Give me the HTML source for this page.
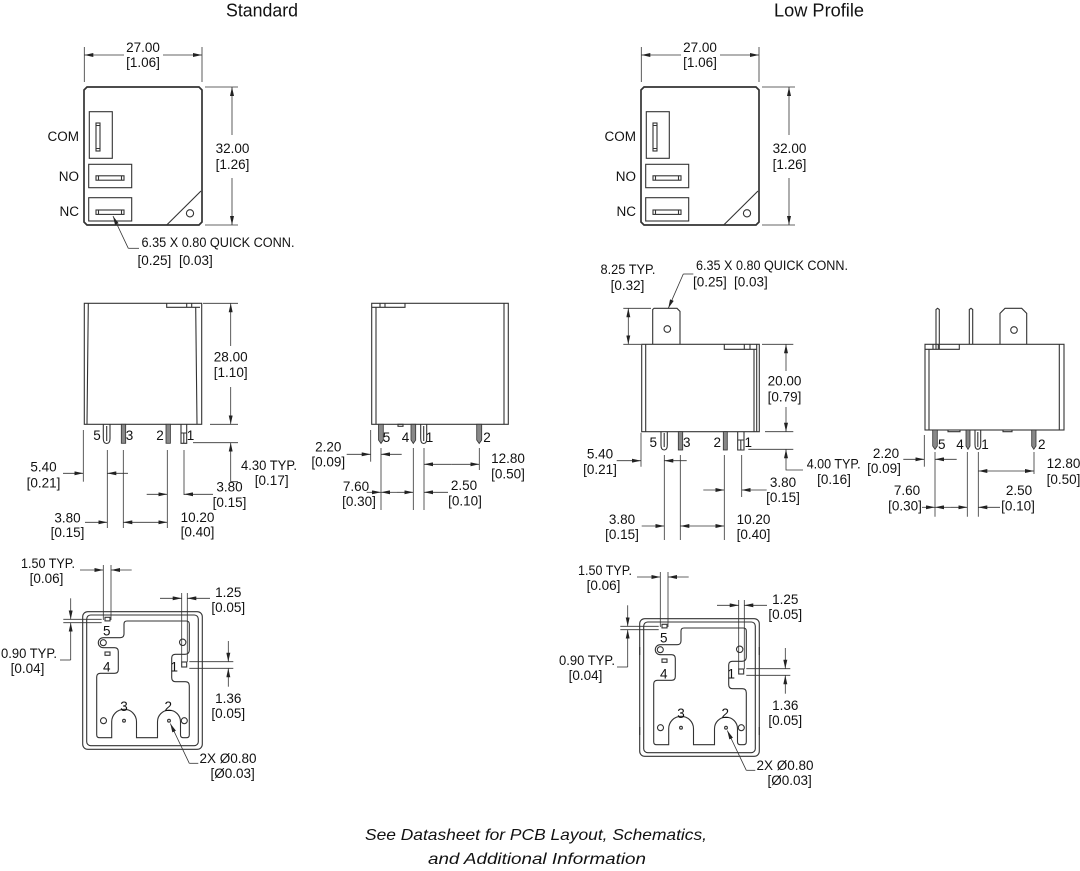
<!DOCTYPE html>
<html><head><meta charset="utf-8"><style>
html,body{margin:0;padding:0;background:#fff;}
svg{display:block;}
text{font-family:"Liberation Sans",Arial,sans-serif;font-size:13.5px;fill:#111;}
.m{text-anchor:middle}
.e{text-anchor:end}
.o{stroke:#333;stroke-width:1.1;fill:none}
.t{stroke:#333;stroke-width:1.7;fill:none}
.d{stroke:#333;stroke-width:0.8;fill:none}
.f{fill:#888;stroke:#333;stroke-width:0.8}
.ttl{font-size:18px}
.it{font-style:italic;font-size:16px}
</style></head><body>
<svg width="1080" height="871" viewBox="0 0 1080 871">
<defs><marker id="a" viewBox="0 0 9 4" refX="9" refY="2" markerWidth="9" markerHeight="4" markerUnits="userSpaceOnUse" orient="auto"><path d="M0,0L9,2L0,4z" fill="#222"/></marker></defs>

<text class="m ttl" x="262" y="16.5" textLength="72" lengthAdjust="spacingAndGlyphs">Standard</text>
<text class="m ttl" x="819" y="16.5" textLength="90" lengthAdjust="spacingAndGlyphs">Low Profile</text>

<!-- ===== STANDARD TOP VIEW ===== -->
<g>
<path class="t" d="M87,87H199L202,90V222L199,225H87L84,222V90Z"/>
<rect class="o" x="89.3" y="111.7" width="23" height="46.6"/>
<rect class="o" x="96" y="123" width="4" height="28"/>
<path class="o" d="M96,125.5H100M96,148.5H100"/>
<rect class="o" x="88.7" y="164.3" width="43" height="23.4"/>
<rect class="o" x="96" y="175.8" width="28" height="4.4"/>
<path class="o" d="M98.5,175.8V180.2M121.5,175.8V180.2"/>
<rect class="o" x="88.7" y="197.7" width="43" height="23.3"/>
<rect class="o" x="96" y="210" width="28" height="4.4"/>
<path class="o" d="M98.5,210V214.4M121.5,210V214.4"/>
<path class="o" d="M166.7,225L201,191"/>
<circle class="o" cx="190" cy="213.3" r="3.6"/>
<text class="e" x="79" y="141">COM</text>
<text class="e" x="79" y="181">NO</text>
<text class="e" x="79" y="216">NC</text>
<path class="d" d="M84.3,47V82M202,47V82"/>
<path class="d" d="M124,55H84.3" marker-end="url(#a)"/>
<path class="d" d="M163,55H202" marker-end="url(#a)"/>
<text class="m" x="143" y="52">27.00</text>
<text class="m" x="143" y="67">[1.06]</text>
<path class="d" d="M205,87H238M205,225H238"/>
<path class="d" d="M232,135V87" marker-end="url(#a)"/>
<path class="d" d="M232,178V225" marker-end="url(#a)"/>
<text class="m" x="232.5" y="153">32.00</text>
<text class="m" x="232.5" y="169">[1.26]</text>
</g>
<path class="d" d="M128.3,248.3L113,216" marker-end="url(#a)"/>
<path class="d" d="M128.3,248.3H139"/>
<text x="141.5" y="247" textLength="153" lengthAdjust="spacingAndGlyphs">6.35 X 0.80 QUICK CONN.</text>
<text x="137.5" y="265">[0.25]</text>
<text x="179" y="265">[0.03]</text>

<!-- ===== LOW PROFILE TOP VIEW ===== -->
<g transform="translate(557,0)">
<path class="t" d="M87,87H199L202,90V222L199,225H87L84,222V90Z"/>
<rect class="o" x="89.3" y="111.7" width="23" height="46.6"/>
<rect class="o" x="96" y="123" width="4" height="28"/>
<path class="o" d="M96,125.5H100M96,148.5H100"/>
<rect class="o" x="88.7" y="164.3" width="43" height="23.4"/>
<rect class="o" x="96" y="175.8" width="28" height="4.4"/>
<path class="o" d="M98.5,175.8V180.2M121.5,175.8V180.2"/>
<rect class="o" x="88.7" y="197.7" width="43" height="23.3"/>
<rect class="o" x="96" y="210" width="28" height="4.4"/>
<path class="o" d="M98.5,210V214.4M121.5,210V214.4"/>
<path class="o" d="M166.7,225L201,191"/>
<circle class="o" cx="190" cy="213.3" r="3.6"/>
<text class="e" x="79" y="141">COM</text>
<text class="e" x="79" y="181">NO</text>
<text class="e" x="79" y="216">NC</text>
<path class="d" d="M84.3,47V82M202,47V82"/>
<path class="d" d="M124,55H84.3" marker-end="url(#a)"/>
<path class="d" d="M163,55H202" marker-end="url(#a)"/>
<text class="m" x="143" y="52">27.00</text>
<text class="m" x="143" y="67">[1.06]</text>
<path class="d" d="M205,87H238M205,225H238"/>
<path class="d" d="M232,135V87" marker-end="url(#a)"/>
<path class="d" d="M232,178V225" marker-end="url(#a)"/>
<text class="m" x="232.5" y="153">32.00</text>
<text class="m" x="232.5" y="169">[1.26]</text>
</g>

<!-- ===== STANDARD SIDE VIEW ===== -->
<rect class="o" x="84.3" y="303.3" width="117.4" height="121"/>
<path class="o" d="M88.3,303.3L87,424.3M195.7,307.3L197,424.3"/>
<path class="o" d="M166.7,303.3V307.3H200M186.7,303.3V307.3M191.7,303.3V307.3"/>
<path class="o" d="M103.3,424.3V438.5Q103.3,443.5 106.7,443.5Q110,443.5 110,438.5V424.3M106.7,426V441"/>
<rect class="f" x="121.3" y="424.3" width="4.4" height="19"/>
<rect class="f" x="166" y="424.3" width="4.4" height="19"/>
<path class="o" d="M181,424.3V443.3H186.7V424.3M181,433H186.7M183.8,433V443.3"/>
<text class="m" x="97" y="440">5</text>
<text class="m" x="129.5" y="440">3</text>
<text class="m" x="160" y="440">2</text>
<text class="m" x="190.5" y="440">1</text>
<path class="d" d="M203,303.3H238M210,424.3H238"/>
<path class="d" d="M230.7,346V303.3" marker-end="url(#a)"/>
<path class="d" d="M230.7,387V424.3" marker-end="url(#a)"/>
<text class="m" x="230.7" y="361.5">28.00</text>
<text class="m" x="230.7" y="377">[1.10]</text>
<path class="d" d="M193,442.7H238"/>
<path class="d" d="M230.7,462V442.7" marker-end="url(#a)"/>
<path class="d" d="M230.7,462V481.7H238"/>
<text x="241" y="470" textLength="56" lengthAdjust="spacingAndGlyphs">4.30 TYP.</text>
<text class="m" x="271.7" y="485">[0.17]</text>
<path class="d" d="M83.3,430V481.7"/>
<path class="d" d="M63,473.3H83.3" marker-end="url(#a)"/>
<path class="d" d="M128,473.3H107.3" marker-end="url(#a)"/>
<text class="m" x="43.5" y="471.5">5.40</text>
<text class="m" x="43.5" y="487.5">[0.21]</text>
<path class="d" d="M107.3,450V528M123.3,450V528M167.3,450V528M184,450V495"/>
<path class="d" d="M146.7,494.3H167.3" marker-end="url(#a)"/>
<path class="d" d="M213,494.3H184" marker-end="url(#a)"/>
<text class="m" x="229.5" y="491.5">3.80</text>
<text class="m" x="229.5" y="507">[0.15]</text>
<path class="d" d="M85,522.3H107.3" marker-end="url(#a)"/>
<path class="d" d="M145,522.3H123.3" marker-end="url(#a)"/>
<path class="d" d="M145,522.3H167.3" marker-end="url(#a)"/>
<text class="m" x="67.5" y="522.5">3.80</text>
<text class="m" x="67.5" y="537">[0.15]</text>
<text class="m" x="197.5" y="522">10.20</text>
<text class="m" x="197.5" y="536.5">[0.40]</text>

<!-- ===== STANDARD RIGHT SIDE VIEW ===== -->
<rect class="o" x="371.7" y="303.3" width="136.6" height="121"/>
<path class="o" d="M376,307.3V424.3M504,303.3V424.3"/>
<path class="o" d="M371.7,307.3H405V303.3M380,303.3V307.3M385,303.3V307.3"/>
<rect class="o" x="398" y="424.3" width="5" height="2"/>
<path class="f" d="M378.5,424.3V440L381,443.5L383.3,440V424.3Z"/>
<path class="f" d="M411,424.3V440L413.3,443.5L415.7,440V424.3Z"/>
<path class="o" d="M420.7,424.3V438.5Q420.7,443.5 423.7,443.5Q426.7,443.5 426.7,438.5V424.3M423.7,426V441"/>
<path class="f" d="M476.7,424.3V440L479.2,443.5L481.7,440V424.3Z"/>
<text class="m" x="386.5" y="442">5</text>
<text class="m" x="405.5" y="442">4</text>
<text class="m" x="429.5" y="442">1</text>
<text class="m" x="487" y="442">2</text>
<path class="d" d="M370.7,430V461.7"/>
<path class="d" d="M346.7,454.3H370.7" marker-end="url(#a)"/>
<path class="d" d="M401.7,454.3H381" marker-end="url(#a)"/>
<text class="m" x="328.3" y="451.5">2.20</text>
<text class="m" x="328.3" y="466.5">[0.09]</text>
<path class="d" d="M381,448V510M413.3,448V510M424,448V510M479.3,448V470"/>
<path class="d" d="M451.7,464.3H424" marker-end="url(#a)"/>
<path class="d" d="M451.7,464.3H479.3" marker-end="url(#a)"/>
<text class="m" x="508" y="463">12.80</text>
<text class="m" x="508" y="478.5">[0.50]</text>
<path class="d" d="M366.7,492.3H381" marker-end="url(#a)"/>
<path class="d" d="M397,492.3H381" marker-end="url(#a)"/>
<path class="d" d="M397,492.3H413.3" marker-end="url(#a)"/>
<text class="m" x="356" y="491">7.60</text>
<text class="m" x="359" y="506">[0.30]</text>
<path class="d" d="M448,492.3H424" marker-end="url(#a)"/>
<text class="m" x="464" y="490">2.50</text>
<text class="m" x="465" y="505.5">[0.10]</text>

<!-- ===== STANDARD BOTTOM VIEW ===== -->
<g>
<rect class="o" x="82.7" y="611.7" width="119.6" height="137.6" rx="5"/>
<rect class="o" x="86.7" y="615" width="111.6" height="130.7" rx="4"/>
<path class="o" d="M127,621H186.3Q189.3,621 189.3,624V650Q189.3,654.3 185,654.3H175.5Q171.7,654.3 171.7,658V677.5Q171.7,681.7 175.5,681.7H185.3Q189.3,681.7 189.3,685.7V734.7Q189.3,737.7 186.3,737.7H183.5Q180.5,737.7 180.5,734.7V721.7A11.5,11.5 0 0 0 157.5,721.7V737.7H136.5V721.7A12.4,12.4 0 0 0 111.7,721.7V737.7H99.7Q96.7,737.7 96.7,734.7V677Q96.7,673.3 100.5,673.3H114.5Q118.3,673.3 118.3,669.5V651.5Q118.3,647.7 114.5,647.7H103.3A5,5 0 0 1 103.3,637.7H120Q124,637.7 124,633.7V624Q124,621 127,621Z"/>
<circle class="o" cx="103.3" cy="642.7" r="3"/>
<circle class="o" cx="182.7" cy="642.3" r="3.2"/>
<circle class="o" cx="103.5" cy="720.7" r="3"/>
<circle class="o" cx="184.3" cy="720.7" r="3"/>
<circle class="o" cx="124" cy="720.7" r="1.4"/>
<circle class="o" cx="169" cy="720.7" r="1.4"/>
<rect class="o" x="105" y="617.3" width="5" height="3.6"/>
<rect class="o" x="105" y="652" width="5" height="3.3"/>
<rect class="o" x="181.7" y="662" width="5" height="5"/>
<text class="m" x="106.7" y="635.5">5</text>
<text class="m" x="106.7" y="671.5">4</text>
<text class="m" x="174.3" y="671.5">1</text>
<text class="m" x="124" y="711">3</text>
<text class="m" x="168.3" y="711">2</text>
<path class="d" d="M103.3,565V620M111,565V620"/>
<path class="d" d="M80,570H103.3" marker-end="url(#a)"/>
<path class="d" d="M131.7,570H111" marker-end="url(#a)"/>
<text class="m" x="48" y="568" textLength="54" lengthAdjust="spacingAndGlyphs">1.50 TYP.</text>
<text class="m" x="46.5" y="583">[0.06]</text>
<path class="d" d="M63.3,619.3H101.7M63.3,622.7H101.7"/>
<path class="d" d="M70.7,598.3V619.3" marker-end="url(#a)"/>
<path class="d" d="M70.7,660V622.7" marker-end="url(#a)"/>
<path class="d" d="M70.7,660H60"/>
<text class="m" x="29" y="658" textLength="56" lengthAdjust="spacingAndGlyphs">0.90 TYP.</text>
<text class="m" x="27.5" y="673">[0.04]</text>
<path class="d" d="M181.7,593V662M187.3,593V662"/>
<path class="d" d="M160,598.3H181.7" marker-end="url(#a)"/>
<path class="d" d="M210,598.3H187.3" marker-end="url(#a)"/>
<text class="m" x="228.3" y="597">1.25</text>
<text class="m" x="228.3" y="612">[0.05]</text>
<path class="d" d="M189.3,661.7H233.3M189.3,668.3H233.3"/>
<path class="d" d="M228.3,641V661.7" marker-end="url(#a)"/>
<path class="d" d="M228.3,686.7V668.3" marker-end="url(#a)"/>
<text class="m" x="228.3" y="703">1.36</text>
<text class="m" x="228.3" y="718">[0.05]</text>
<path class="d" d="M189.3,763.3L170.3,723.5" marker-end="url(#a)"/>
<path class="d" d="M189.3,763.3H198.3"/>
<text x="199.5" y="763">2X Ø0.80</text>
<text x="210.5" y="778">[Ø0.03]</text>
</g>

<!-- ===== LOW PROFILE BOTTOM VIEW ===== -->
<g transform="translate(557,7)">
<rect class="o" x="82.7" y="611.7" width="119.6" height="137.6" rx="5"/>
<rect class="o" x="86.7" y="615" width="111.6" height="130.7" rx="4"/>
<path class="o" d="M127,621H186.3Q189.3,621 189.3,624V650Q189.3,654.3 185,654.3H175.5Q171.7,654.3 171.7,658V677.5Q171.7,681.7 175.5,681.7H185.3Q189.3,681.7 189.3,685.7V734.7Q189.3,737.7 186.3,737.7H183.5Q180.5,737.7 180.5,734.7V721.7A11.5,11.5 0 0 0 157.5,721.7V737.7H136.5V721.7A12.4,12.4 0 0 0 111.7,721.7V737.7H99.7Q96.7,737.7 96.7,734.7V677Q96.7,673.3 100.5,673.3H114.5Q118.3,673.3 118.3,669.5V651.5Q118.3,647.7 114.5,647.7H103.3A5,5 0 0 1 103.3,637.7H120Q124,637.7 124,633.7V624Q124,621 127,621Z"/>
<circle class="o" cx="103.3" cy="642.7" r="3"/>
<circle class="o" cx="182.7" cy="642.3" r="3.2"/>
<circle class="o" cx="103.5" cy="720.7" r="3"/>
<circle class="o" cx="184.3" cy="720.7" r="3"/>
<circle class="o" cx="124" cy="720.7" r="1.4"/>
<circle class="o" cx="169" cy="720.7" r="1.4"/>
<rect class="o" x="105" y="617.3" width="5" height="3.6"/>
<rect class="o" x="105" y="652" width="5" height="3.3"/>
<rect class="o" x="181.7" y="662" width="5" height="5"/>
<path class="o" d="M82.7,640V648M202.3,640V648M82.7,720V728M202.3,720V728"/>
<text class="m" x="106.7" y="635.5">5</text>
<text class="m" x="106.7" y="671.5">4</text>
<text class="m" x="174.3" y="671.5">1</text>
<text class="m" x="124" y="711">3</text>
<text class="m" x="168.3" y="711">2</text>
<path class="d" d="M103.3,565V620M111,565V620"/>
<path class="d" d="M80,570H103.3" marker-end="url(#a)"/>
<path class="d" d="M131.7,570H111" marker-end="url(#a)"/>
<text class="m" x="48" y="568" textLength="54" lengthAdjust="spacingAndGlyphs">1.50 TYP.</text>
<text class="m" x="46.5" y="583">[0.06]</text>
<path class="d" d="M63.3,619.3H101.7M63.3,622.7H101.7"/>
<path class="d" d="M70.7,598.3V619.3" marker-end="url(#a)"/>
<path class="d" d="M70.7,660V622.7" marker-end="url(#a)"/>
<path class="d" d="M70.7,660H60"/>
<text class="m" x="30" y="658" textLength="56" lengthAdjust="spacingAndGlyphs">0.90 TYP.</text>
<text class="m" x="28.5" y="673">[0.04]</text>
<path class="d" d="M181.7,593V662M187.3,593V662"/>
<path class="d" d="M160,598.3H181.7" marker-end="url(#a)"/>
<path class="d" d="M210,598.3H187.3" marker-end="url(#a)"/>
<text class="m" x="228.3" y="597">1.25</text>
<text class="m" x="228.3" y="612">[0.05]</text>
<path class="d" d="M189.3,661.7H233.3M189.3,668.3H233.3"/>
<path class="d" d="M228.3,641V661.7" marker-end="url(#a)"/>
<path class="d" d="M228.3,686.7V668.3" marker-end="url(#a)"/>
<text class="m" x="228.3" y="703">1.36</text>
<text class="m" x="228.3" y="718">[0.05]</text>
<path class="d" d="M189.3,763.3L170.3,723.5" marker-end="url(#a)"/>
<path class="d" d="M189.3,763.3H198.3"/>
<text x="199.5" y="763">2X Ø0.80</text>
<text x="210.5" y="778">[Ø0.03]</text>
</g>

<!-- ===== LOW PROFILE SIDE VIEW ===== -->
<rect class="o" x="641.7" y="344.3" width="117.6" height="87.4"/>
<path class="o" d="M645.7,344.3V431.7M754,349.3V431.7M756.7,344.3V431.7"/>
<path class="o" d="M724.3,344.3V349.3H756.7M744.3,344.3V349.3M750,344.3V349.3"/>
<path class="o" d="M652.7,344.3V309.5L654,308.3H677L680,311.3V344.3"/>
<circle class="o" cx="667.3" cy="329" r="3.3"/>
<path class="o" d="M661,431.7V445Q661,450 664.2,450Q667.3,450 667.3,445V431.7M664.2,433V447"/>
<rect class="f" x="678.3" y="431.7" width="4.4" height="18.3"/>
<rect class="f" x="723.3" y="431.7" width="4" height="18.3"/>
<path class="o" d="M737.7,431.7V450H744V431.7M737.7,440H744M740.8,440V450"/>
<text class="m" x="653.3" y="447">5</text>
<text class="m" x="686.7" y="447">3</text>
<text class="m" x="717.3" y="447">2</text>
<text class="m" x="748.3" y="447">1</text>
<path class="d" d="M623.3,308.3H651M623.3,344.3H641"/>
<path class="d" d="M628.3,326V308.3" marker-end="url(#a)"/>
<path class="d" d="M628.3,326V344.3" marker-end="url(#a)"/>
<text class="m" x="628" y="274" textLength="55" lengthAdjust="spacingAndGlyphs">8.25 TYP.</text>
<text class="m" x="627.5" y="290">[0.32]</text>
<path class="d" d="M683.3,274L668.3,308.3" marker-end="url(#a)"/>
<path class="d" d="M683.3,274H693.3"/>
<text x="696" y="270" textLength="152" lengthAdjust="spacingAndGlyphs">6.35 X 0.80 QUICK CONN.</text>
<text x="693" y="286.5">[0.25]</text>
<text x="734" y="286.5">[0.03]</text>
<path class="d" d="M762,344.3H793.3M765,431.7H793.3"/>
<path class="d" d="M786,371V344.3" marker-end="url(#a)"/>
<path class="d" d="M786,407V431.7" marker-end="url(#a)"/>
<text class="m" x="784.5" y="385.5">20.00</text>
<text class="m" x="784.5" y="401.5">[0.79]</text>
<path class="d" d="M748.3,449.3H793.3"/>
<path class="d" d="M786,468V449.3" marker-end="url(#a)"/>
<path class="d" d="M786,468V470H803"/>
<text x="806.7" y="468.5" textLength="54" lengthAdjust="spacingAndGlyphs">4.00 TYP.</text>
<text class="m" x="834" y="484">[0.16]</text>
<path class="d" d="M641,432.7V466.7"/>
<path class="d" d="M616.7,460.7H641" marker-end="url(#a)"/>
<path class="d" d="M686.7,460.7H664.3" marker-end="url(#a)"/>
<text class="m" x="600" y="458.5">5.40</text>
<text class="m" x="600" y="474">[0.21]</text>
<path class="d" d="M664.3,455V540M680.3,455V540M724.3,455V540M741.7,455V497"/>
<path class="d" d="M703.3,490H724.3" marker-end="url(#a)"/>
<path class="d" d="M766.7,490H741.7" marker-end="url(#a)"/>
<text class="m" x="783" y="487">3.80</text>
<text class="m" x="783" y="502">[0.15]</text>
<path class="d" d="M641.7,526H664.3" marker-end="url(#a)"/>
<path class="d" d="M702,526H680.3" marker-end="url(#a)"/>
<path class="d" d="M702,526H724.3" marker-end="url(#a)"/>
<text class="m" x="622" y="524">3.80</text>
<text class="m" x="622" y="539">[0.15]</text>
<text class="m" x="753.5" y="524">10.20</text>
<text class="m" x="753.5" y="539">[0.40]</text>

<!-- ===== LOW PROFILE RIGHT SIDE VIEW ===== -->
<rect class="o" x="925" y="344.3" width="139" height="85.7"/>
<path class="o" d="M929,349.3V430M1059.3,344.3V430"/>
<path class="o" d="M925,349.3H959.3V344.3M933,344.3V349.3M938.3,344.3V349.3"/>
<path class="o" d="M936,349.3V309.5L937.6,308.3L939.3,309.5V349.3"/>
<path class="o" d="M969.3,344.3V309.5L971,308.3L972.7,309.5V344.3"/>
<path class="o" d="M1000,344.3V313.3L1005,308.3H1021.7L1026.7,313.3V344.3"/>
<circle class="o" cx="1014" cy="330" r="3.3"/>
<path class="o" d="M948,430V431.7H960V430M1003,430V431.7H1012V430"/>
<path class="f" d="M932.7,430V446L935,449.3L937.3,446V430Z"/>
<path class="f" d="M966,430V446L968,449.3L970,446V430Z"/>
<path class="o" d="M975,430V444.5Q975,449.3 977.8,449.3Q980.7,449.3 980.7,444.5V430M977.8,432V447"/>
<path class="f" d="M1031.7,430V446L1033.8,449.3L1036,446V430Z"/>
<text class="m" x="941.7" y="449">5</text>
<text class="m" x="960" y="449">4</text>
<text class="m" x="985" y="449">1</text>
<text class="m" x="1041.7" y="449">2</text>
<path class="d" d="M924.3,435V466.7"/>
<path class="d" d="M903.3,459.3H924.3" marker-end="url(#a)"/>
<path class="d" d="M956.7,459.3H935" marker-end="url(#a)"/>
<text class="m" x="886" y="458">2.20</text>
<text class="m" x="884" y="473">[0.09]</text>
<path class="d" d="M935,452V516.7M967.3,452V516.7M978.3,452V516.7M1034,452V474"/>
<path class="d" d="M1006,471H978.3" marker-end="url(#a)"/>
<path class="d" d="M1006,471H1034" marker-end="url(#a)"/>
<text class="m" x="1063.5" y="468">12.80</text>
<text class="m" x="1063.5" y="484">[0.50]</text>
<path class="d" d="M922,507.3H935" marker-end="url(#a)"/>
<path class="d" d="M951,507.3H935" marker-end="url(#a)"/>
<path class="d" d="M951,507.3H967.3" marker-end="url(#a)"/>
<text class="m" x="907" y="495">7.60</text>
<text class="m" x="905" y="510.5">[0.30]</text>
<path class="d" d="M1000,507.3H978.3" marker-end="url(#a)"/>
<text class="m" x="1019" y="495">2.50</text>
<text class="m" x="1018" y="510.5">[0.10]</text>

<!-- ===== FOOTNOTE ===== -->
<text class="m it" x="536" y="840" textLength="342" lengthAdjust="spacingAndGlyphs">See Datasheet for PCB Layout, Schematics,</text>
<text class="m it" x="537" y="864" textLength="218" lengthAdjust="spacingAndGlyphs">and Additional Information</text>
</svg>
</body></html>
